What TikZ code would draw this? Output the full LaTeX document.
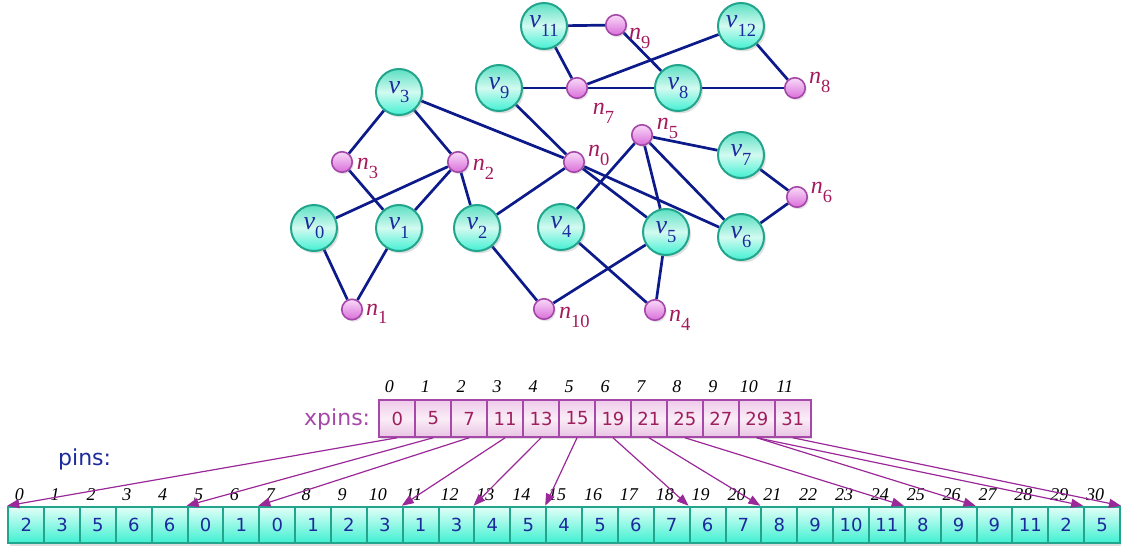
\documentclass[tikz,border=0pt]{standalone}
\usepackage{fontspec}
\setmainfont{Liberation Serif}
\newfontfamily\cellfont{DejaVu Sans}
\usetikzlibrary{arrows.meta,shadows,backgrounds}
\definecolor{edgeblue}{HTML}{0C1A8A}
\definecolor{vborder}{HTML}{22A58C}
\definecolor{vtop}{HTML}{5CE0C3}
\definecolor{vmid}{HTML}{D2FAF0}
\definecolor{vbot}{HTML}{42F0D3}
\definecolor{nborder}{HTML}{A447A8}
\definecolor{ntop}{HTML}{F8DAF8}
\definecolor{nbot}{HTML}{DA6EDA}
\definecolor{vtext}{HTML}{1C2A9C}
\definecolor{ntext}{HTML}{A3195B}
\definecolor{arrowc}{HTML}{9A2898}
\definecolor{xborder}{HTML}{A548A8}
\definecolor{xtop}{HTML}{EFCBEA}
\definecolor{xmid}{HTML}{FAEDF7}
\definecolor{xbot}{HTML}{E8C4E4}
\definecolor{xtext}{HTML}{9E1E5E}
\definecolor{pborder}{HTML}{22A58C}
\definecolor{ptop}{HTML}{E2FFF7}
\definecolor{pbot}{HTML}{3EF0D2}
\definecolor{ptext}{HTML}{1C2A9C}
\newcommand\vtxlab[1]{{\fontsize{26}{26}\selectfont\itshape v}\raisebox{-8.5pt}{\fontsize{18.5}{18.5}\selectfont #1}}
\newcommand\netlab[1]{{\fontsize{24}{24}\selectfont\itshape n}\raisebox{-9pt}{\fontsize{18.5}{18.5}\selectfont #1}}
\tikzset{
  vnode/.style={circle, minimum size=46pt, inner sep=0pt, draw=vborder, line width=2pt,
    top color=vtop, bottom color=vbot, middle color=vmid, text=vtext,
    drop shadow={opacity=0.25, shadow xshift=2pt, shadow yshift=-2.5pt}},
  nnode/.style={circle, minimum size=20.5pt, inner sep=0pt, draw=nborder, line width=1.6pt,
    top color=ntop, bottom color=nbot,
    drop shadow={opacity=0.2, shadow xshift=1.5pt, shadow yshift=-2pt}},
  nlab/.style={anchor=base west, inner sep=0pt, text=ntext},
  edge/.style={draw=edgeblue, line width=2.7pt},
  pcell/.style={rectangle, minimum width=35.86pt, minimum height=36.5pt, inner sep=0pt,
    draw=pborder, line width=2pt, top color=ptop, bottom color=pbot, text=ptext,
    font=\cellfont\fontsize{18}{18}\selectfont,
    drop shadow={opacity=0.25, shadow xshift=1.5pt, shadow yshift=-2.5pt}},
  xcell/.style={rectangle, minimum width=35.95pt, minimum height=36.5pt, inner sep=0pt,
    draw=xborder, line width=2pt, top color=xtop, bottom color=xbot, middle color=xmid, text=xtext,
    font=\cellfont\fontsize{18}{18}\selectfont,
    drop shadow={opacity=0.25, shadow xshift=1.5pt, shadow yshift=-2.5pt}},
  idxlab/.style={anchor=base, inner sep=0pt, font=\fontsize{18}{18}\selectfont\itshape},
  pinarrow/.style={draw=arrowc, line width=1.2pt, -{Triangle[length=12pt,width=9pt]}},
}
\begin{document}
\begin{tikzpicture}[x=1pt,y=-1pt]
\useasboundingbox (0,0) rectangle (1122,548);
% vertices
\node[vnode] (v0) at (314,228) {\vtxlab{0}};
\node[vnode] (v1) at (399,228) {\vtxlab{1}};
\node[vnode] (v2) at (477,228) {\vtxlab{2}};
\node[vnode] (v3) at (399,92) {\vtxlab{3}};
\node[vnode] (v4) at (561,227) {\vtxlab{4}};
\node[vnode] (v5) at (666,232) {\vtxlab{5}};
\node[vnode] (v6) at (741,237) {\vtxlab{6}};
\node[vnode] (v7) at (741,155) {\vtxlab{7}};
\node[vnode] (v8) at (678,88) {\vtxlab{8}};
\node[vnode] (v9) at (499,88) {\vtxlab{9}};
\node[vnode] (v11) at (544,26) {\vtxlab{11}};
\node[vnode] (v12) at (741,26) {\vtxlab{12}};
% nets
\node[nnode] (n0) at (574,162) {};
\node[nnode] (n1) at (352,309.5) {};
\node[nnode] (n2) at (458,162) {};
\node[nnode] (n3) at (342,162) {};
\node[nnode] (n4) at (655,310) {};
\node[nnode] (n5) at (642,135) {};
\node[nnode] (n6) at (797,197) {};
\node[nnode] (n7) at (577,88) {};
\node[nnode] (n8) at (795,88) {};
\node[nnode] (n9) at (616,25) {};
\node[nnode] (n10) at (544,309) {};
% net labels
\node[nlab] (ln0) at (588,156.7) {\netlab{0}};
\node[nlab] (ln1) at (366,315) {\netlab{1}};
\node[nlab] (ln2) at (472.7,170.7) {\netlab{2}};
\node[nlab] (ln3) at (356.7,170) {\netlab{3}};
\node[nlab] (ln4) at (669,321.7) {\netlab{4}};
\node[nlab] (ln5) at (656.7,130) {\netlab{5}};
\node[nlab] (ln6) at (810.7,193.3) {\netlab{6}};
\node[nlab] (ln7) at (592.7,115) {\netlab{7}};
\node[nlab] (ln8) at (809,83.3) {\netlab{8}};
\node[nlab] (ln9) at (629,39.3) {\netlab{9}};
\node[nlab] (ln10) at (559,318.3) {\netlab{10}};
% edges
\begin{scope}[on background layer]
\foreach \a/\b in {v3/n3, v3/n2, v3/n0, n3/v1, n2/v0, n2/v1, n2/v2, v0/n1, v1/n1,
  v2/n0, v2/n10, n10/v5, v9/n7, v9/n0, v11/n9, v11/n7, n7/v8, n7/v12, n9/v8,
  v8/n8, v12/n8, n0/v5, n0/v6, n5/v4, n5/v5, n5/v6, n5/v7, v7/n6, v6/n6, v4/n4, v5/n4}
  \draw[edge] (\a) -- (\b);
\end{scope}
% xpins array
\node[anchor=base west, inner sep=0pt, text=xborder, font=\cellfont\fontsize{22}{22}\selectfont] (xlabel) at (304,425) {xpins:};
\foreach \v [count=\i from 0] in {0,5,7,11,13,15,19,21,25,27,29,31} {
  \node[xcell] (x\i) at ({397.28+35.95*\i},418.5) {\v};
  \node[idxlab] (xl\i) at ({389.3+35.95*\i},392) {\i};
}
% pins array
\node[anchor=base west, inner sep=0pt, text=ptext, font=\cellfont\fontsize{22}{22}\selectfont] (plabel) at (58,465) {pins:};
\foreach \v [count=\i from 0] in {2,3,5,6,6,0,1,0,1,2,3,1,3,4,5,4,5,6,7,6,7,8,9,10,11,8,9,9,11,2,5} {
  \node[pcell] (p\i) at ({26.23+35.86*\i},525) {\v};
  \node[idxlab] (pl\i) at ({19.3+35.86*\i},500) {\i};
}
% arrows
\foreach \s/\t in {0/0,1/5,2/7,3/11,4/13,5/15,6/19,7/21,8/25,10/27,10/30}
  \draw[pinarrow] (x\s.south) -- (p\t.north west);
\draw[pinarrow] (x11.south) -- (p30.north east);
\end{tikzpicture}
\end{document}
